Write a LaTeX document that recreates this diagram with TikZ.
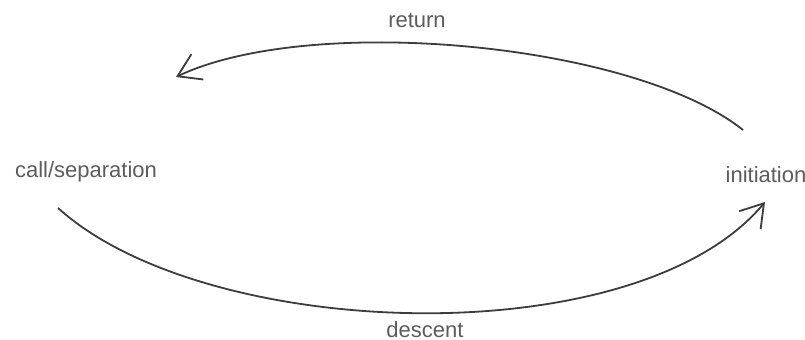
\documentclass[tikz,border=0pt]{standalone}
\usepackage{fontspec}
\setmainfont{Liberation Sans}
\usetikzlibrary{arrows.meta}
\definecolor{cycletext}{HTML}{5C5C5C}
\definecolor{cycleline}{HTML}{3C3C3C}

\begin{document}
\begin{tikzpicture}[
  x=0.5pt,y=-0.5pt,
  stage/.style={text=cycletext,font=\fontsize{11}{13}\selectfont,inner sep=1pt},
  journey/.style={cycleline,line width=0.9pt,
    -{Straight Barb[length=11pt,width=14pt,line width=0.9pt]}}
]
\useasboundingbox (0,0) rectangle (805,340);
% the four stages of the journey
\node[stage] (call) at (86,172) {call/separation};
\node[stage] (init) at (766,175) {initiation};
\node[stage] (ret)  at (417,21)  {return};
\node[stage] (desc) at (425,330) {descent};
% free ends of the two arcs
\coordinate (callend) at (58,208);
\coordinate (initend) at (765,202);
\coordinate (initbeg) at (743,130);
\coordinate (retend)  at (176,77);
\draw[journey] (callend) .. controls (206,342) and (637,356) .. (initend);
\draw[journey] (initbeg) .. controls (634,43) and (311,13) .. (retend);
\end{tikzpicture}
\end{document}
